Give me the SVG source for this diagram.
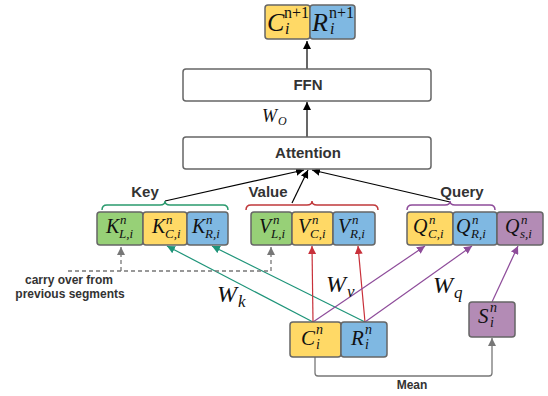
<svg xmlns="http://www.w3.org/2000/svg" width="548" height="396" viewBox="0 0 548 396">
<style>
.box{stroke:#666;stroke-width:1.5}
.y{fill:#FFD966}.b{fill:#7FB8E2}.g{fill:#97D077}.p{fill:#B38BB5}.w{fill:#fff}
.lbl{font-family:"Liberation Sans",Arial,sans-serif;font-weight:bold;fill:#333}
.m{font-family:'Liberation Serif','DejaVu Serif',serif;font-style:italic;fill:#111}
.big{font-size:20px}.sm{font-size:13px}
.blk{stroke:#000;stroke-width:1.2;fill:none}
.grn{stroke:#1E9479;stroke-width:1.2;fill:none}
.red{stroke:#C8303A;stroke-width:1.2;fill:none}
.pur{stroke:#8E4C9A;stroke-width:1.2;fill:none}
.gry{stroke:#777;stroke-width:1.3;fill:none}
</style>
<defs>
<marker id="ak" markerUnits="userSpaceOnUse" markerWidth="8" markerHeight="8" refX="8" refY="4" orient="auto"><path d="M0,0 L8,4 L0,8 z" fill="#000"/></marker>
<marker id="ag" markerUnits="userSpaceOnUse" markerWidth="8" markerHeight="8" refX="8" refY="4" orient="auto"><path d="M0,0 L8,4 L0,8 z" fill="#1E9479"/></marker>
<marker id="ar" markerUnits="userSpaceOnUse" markerWidth="8" markerHeight="8" refX="8" refY="4" orient="auto"><path d="M0,0 L8,4 L0,8 z" fill="#C8303A"/></marker>
<marker id="ap" markerUnits="userSpaceOnUse" markerWidth="8" markerHeight="8" refX="8" refY="4" orient="auto"><path d="M0,0 L8,4 L0,8 z" fill="#8E4C9A"/></marker>
<marker id="ay" markerUnits="userSpaceOnUse" markerWidth="8" markerHeight="8" refX="8" refY="4" orient="auto"><path d="M0,0 L8,4 L0,8 z" fill="#777"/></marker>
</defs>

<g id="connectors">
<line class="blk" x1="307" y1="137" x2="307" y2="102" marker-end="url(#ak)"/>
<line class="blk" x1="307" y1="69" x2="307" y2="41" marker-end="url(#ak)"/>
<line class="blk" x1="165" y1="201" x2="304" y2="170" marker-end="url(#ak)"/>
<line class="blk" x1="292" y1="203" x2="308" y2="170" marker-end="url(#ak)"/>
<line class="blk" x1="450" y1="202" x2="312" y2="170" marker-end="url(#ak)"/>
<line class="grn" x1="313" y1="322" x2="167" y2="246" marker-end="url(#ag)"/>
<line class="grn" x1="365" y1="322" x2="212" y2="246" marker-end="url(#ag)"/>
<line class="red" x1="313" y1="322" x2="312" y2="246" marker-end="url(#ar)"/>
<line class="red" x1="365" y1="322" x2="358" y2="246" marker-end="url(#ar)"/>
<line class="pur" x1="313" y1="322" x2="425" y2="246" marker-end="url(#ap)"/>
<line class="pur" x1="365" y1="322" x2="472" y2="246" marker-end="url(#ap)"/>
<line class="pur" x1="492" y1="302" x2="518" y2="246" marker-end="url(#ap)"/>
<path class="gry" stroke-dasharray="4,3" d="M68,271 H271 V247" marker-end="url(#ay)"/>
<path class="gry" stroke-dasharray="4,3" d="M121,271 V247" marker-end="url(#ay)"/>
<path class="gry" d="M315,357 V373 Q315,376 318,376 H489 Q492,376 492,373 V338" marker-end="url(#ay)"/>
</g>

<g id="braces">
<path d="M102,210 Q102,205 107,205 L160,205 Q165,205 165,201 Q165,205 170,205 L223,205 Q228,205 228,210" fill="none" stroke="#2A9A6E" stroke-width="1.5"/>
<path d="M246,210 Q246,205 251,205 L307,205 Q312,205 312,201 Q312,205 317,205 L373,205 Q378,205 378,210" fill="none" stroke="#C0393B" stroke-width="1.5"/>
<path d="M407,210 Q407,205 412,205 L445,205 Q450,205 450,201 Q450,205 455,205 L490,205 Q495,205 495,210" fill="none" stroke="#8E4C9A" stroke-width="1.5"/>
<text class="lbl" x="145" y="197" font-size="15" text-anchor="middle">Key</text>
<text class="lbl" x="268" y="197" font-size="15" text-anchor="middle">Value</text>
<text class="lbl" x="462" y="197" font-size="15" text-anchor="middle">Query</text>
</g>

<g id="top">
<rect class="box y" x="265" y="5" width="45" height="34" rx="3"/>
<rect class="box b" x="310" y="5" width="45" height="34" rx="3"/>
<text class="m"><tspan x="267" y="31" font-size="26">C</tspan><tspan x="284" y="18" font-size="16" font-style="normal">n+1</tspan><tspan x="285" y="34" font-size="16">i</tspan></text>
<text class="m"><tspan x="312" y="31" font-size="26">R</tspan><tspan x="329" y="18" font-size="16" font-style="normal">n+1</tspan><tspan x="330" y="34" font-size="16">i</tspan></text>
</g>

<g id="ffn">
<rect class="box w" x="183" y="69" width="248" height="32" rx="3"/>
<text class="lbl" x="308" y="90" font-size="15" text-anchor="middle">FFN</text>
</g>

<g id="wo"><text class="m"><tspan x="262" y="122" font-size="18">W</tspan><tspan x="278" y="125" font-size="12">O</tspan></text></g>

<g id="attention">
<rect class="box w" x="183" y="137" width="248" height="32" rx="3"/>
<text class="lbl" x="308" y="158" font-size="15" text-anchor="middle">Attention</text>
</g>

<g id="key">
<rect class="box g" x="97" y="212" width="46" height="33" rx="3"/>
<rect class="box y" x="143" y="212" width="44" height="33" rx="3"/>
<rect class="box b" x="187" y="212" width="41" height="33" rx="3"/>
<text class="m"><tspan class="big" x="106" y="233">K</tspan><tspan class="sm" x="120" y="224">n</tspan><tspan class="sm" x="119" y="238">L,i</tspan></text>
<text class="m"><tspan class="big" x="152" y="233">K</tspan><tspan class="sm" x="166" y="224">n</tspan><tspan class="sm" x="165" y="238">C,i</tspan></text>
<text class="m"><tspan class="big" x="192" y="233">K</tspan><tspan class="sm" x="206" y="224">n</tspan><tspan class="sm" x="205" y="238">R,i</tspan></text>
</g>

<g id="value">
<rect class="box g" x="251" y="212" width="41" height="33" rx="3"/>
<rect class="box y" x="292" y="212" width="41" height="33" rx="3"/>
<rect class="box b" x="333" y="212" width="42" height="33" rx="3"/>
<text class="m"><tspan class="big" x="259" y="233">V</tspan><tspan class="sm" x="273" y="224">n</tspan><tspan class="sm" x="271" y="238">L,i</tspan></text>
<text class="m"><tspan class="big" x="298" y="233">V</tspan><tspan class="sm" x="312" y="224">n</tspan><tspan class="sm" x="310" y="238">C,i</tspan></text>
<text class="m"><tspan class="big" x="338" y="233">V</tspan><tspan class="sm" x="352" y="224">n</tspan><tspan class="sm" x="350" y="238">R,i</tspan></text>
</g>

<g id="query">
<rect class="box y" x="407" y="212" width="46" height="33" rx="3"/>
<rect class="box b" x="453" y="212" width="44" height="33" rx="3"/>
<rect class="box p" x="497" y="212" width="46" height="33" rx="3"/>
<text class="m"><tspan class="big" x="413" y="233">Q</tspan><tspan class="sm" x="429" y="224">n</tspan><tspan class="sm" x="428" y="238">C,i</tspan></text>
<text class="m"><tspan class="big" x="456" y="233">Q</tspan><tspan class="sm" x="472" y="224">n</tspan><tspan class="sm" x="471" y="238">R,i</tspan></text>
<text class="m"><tspan class="big" x="505" y="233">Q</tspan><tspan class="sm" x="521" y="224">n</tspan><tspan class="sm" x="520" y="238">s,i</tspan></text>
</g>

<g id="carry">
<text class="lbl" x="69" y="284" font-size="12" text-anchor="middle">carry over from</text>
<text class="lbl" x="70" y="298" font-size="12" text-anchor="middle">previous segments</text>
</g>

<g id="weights">
<text class="m"><tspan x="217" y="302" font-size="24">W</tspan><tspan x="238" y="307" font-size="17">k</tspan></text>
<text class="m"><tspan x="326" y="292" font-size="24">W</tspan><tspan x="347" y="297" font-size="17">v</tspan></text>
<text class="m"><tspan x="433" y="293" font-size="24">W</tspan><tspan x="454" y="298" font-size="17">q</tspan></text>
</g>

<g id="cr">
<rect class="box y" x="290" y="322" width="51" height="35" rx="3"/>
<rect class="box b" x="341" y="322" width="46" height="35" rx="3"/>
<text class="m"><tspan x="301" y="345" font-size="21">C</tspan><tspan x="316" y="334" font-size="14">n</tspan><tspan x="316" y="349" font-size="14">i</tspan></text>
<text class="m"><tspan x="351" y="345" font-size="21">R</tspan><tspan x="365" y="334" font-size="14">n</tspan><tspan x="365" y="349" font-size="14">i</tspan></text>
</g>

<g id="s">
<rect class="box p" x="469" y="302" width="46" height="35" rx="3"/>
<text class="m"><tspan x="478" y="323" font-size="21">S</tspan><tspan x="490" y="312" font-size="14">n</tspan><tspan x="490" y="327" font-size="14">i</tspan></text>
</g>

<g id="mean"><text class="lbl" x="412" y="389" font-size="12" text-anchor="middle">Mean</text></g>
</svg>
